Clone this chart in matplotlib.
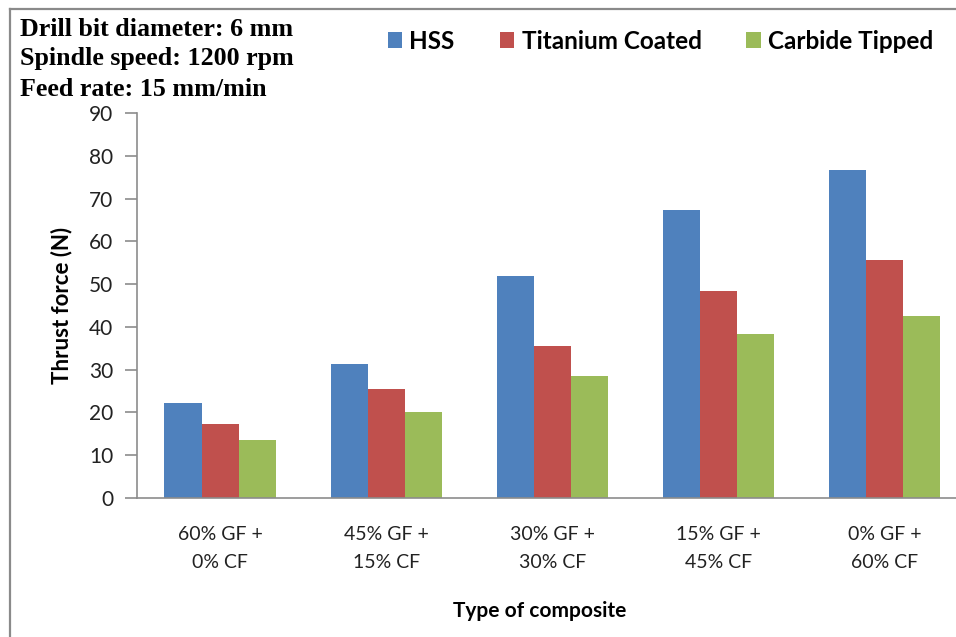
import numpy as np
import matplotlib
matplotlib.use("Agg")
import matplotlib.pyplot as plt
from matplotlib.lines import Line2D
from matplotlib.patches import Patch

# data
categories = ["60% GF +\n0% CF", "45% GF +\n15% CF", "30% GF +\n30% CF",
              "15% GF +\n45% CF", "0% GF +\n60% CF"]
series_names = ["HSS", "Titanium Coated", "Carbide Tipped"]
hss = [22.2, 31.4, 52.0, 67.3, 76.6]
titanium = [17.4, 25.4, 35.5, 48.5, 55.6]
carbide = [13.6, 20.0, 28.5, 38.3, 42.5]
y_ticks = [0, 10, 20, 30, 40, 50, 60, 70, 80, 90]

colors = ["#4F81BD", "#C0504D", "#9BBB59"]
sans = ["Lato", "DejaVu Sans"]
serif = ["Liberation Serif", "DejaVu Serif"]


def draw():
    fig = plt.figure(figsize=(9.56, 6.37), dpi=100)
    ax = fig.add_axes([0.1433, 0.2182, 0.8692, 0.6044])

    x = np.arange(len(categories))
    w = 0.223
    for i, (vals, c) in enumerate(zip([hss, titanium, carbide], colors)):
        ax.bar(x + (i - 1) * w, vals, width=w, color=c, edgecolor="none", zorder=2)

    ax.set_xlim(-0.5, len(categories) - 0.5)
    ax.set_ylim(0, 90)
    ax.set_yticks(y_ticks)
    ax.set_xticks(x)
    ax.set_xticklabels(categories, fontsize=14, family=sans, color="#222222",
                       linespacing=1.8)
    for lab in ax.get_yticklabels():
        lab.set_fontsize(15)
        lab.set_family(sans)
        lab.set_color("#222222")

    for s in ["top", "right"]:
        ax.spines[s].set_visible(False)
    for s in ["left", "bottom"]:
        ax.spines[s].set_color("#8c8c8c")
        ax.spines[s].set_linewidth(1.2)
    ax.tick_params(axis="y", direction="out", length=9, width=1.2, color="#8c8c8c", pad=8)
    ax.tick_params(axis="x", length=0, pad=20)

    ax.set_ylabel("Thrust force (N)", fontsize=16, fontweight="bold", family=sans, labelpad=12)
    fig.text(0.565, 0.041, "Type of composite", fontsize=15, fontweight="bold",
             family=sans, ha="center", va="center")

    # test condition text in the top-left corner
    notes = ["Drill bit diameter: 6 mm", "Spindle speed: 1200 rpm", "Feed rate: 15 mm/min"]
    for k, t in enumerate(notes):
        fig.text(0.021, 1 - (29 + 30 * k) / 637, t, fontsize=18.7, fontweight="bold",
                 family=serif, ha="left", va="center")

    handles = [Patch(facecolor=c, edgecolor="none") for c in colors]
    fig.legend(handles, series_names, loc="center", bbox_to_anchor=(0.691, 0.9356),
               ncol=3, frameon=False, handlelength=0.6, handleheight=0.6,
               handletextpad=0.3, columnspacing=1.85,
               prop={"family": sans, "weight": "bold", "size": 17.5})

    # outer frame (left and top edges visible)
    fig.add_artist(Line2D([10 / 956, 10 / 956], [0, 1 - 9 / 637], color="#8a8a8a", lw=1.6))
    fig.add_artist(Line2D([10 / 956, 1], [1 - 9 / 637, 1 - 9 / 637], color="#8a8a8a", lw=1.6))

    fig.savefig("out.png", dpi=100)


if __name__ == "__main__":
    draw()
